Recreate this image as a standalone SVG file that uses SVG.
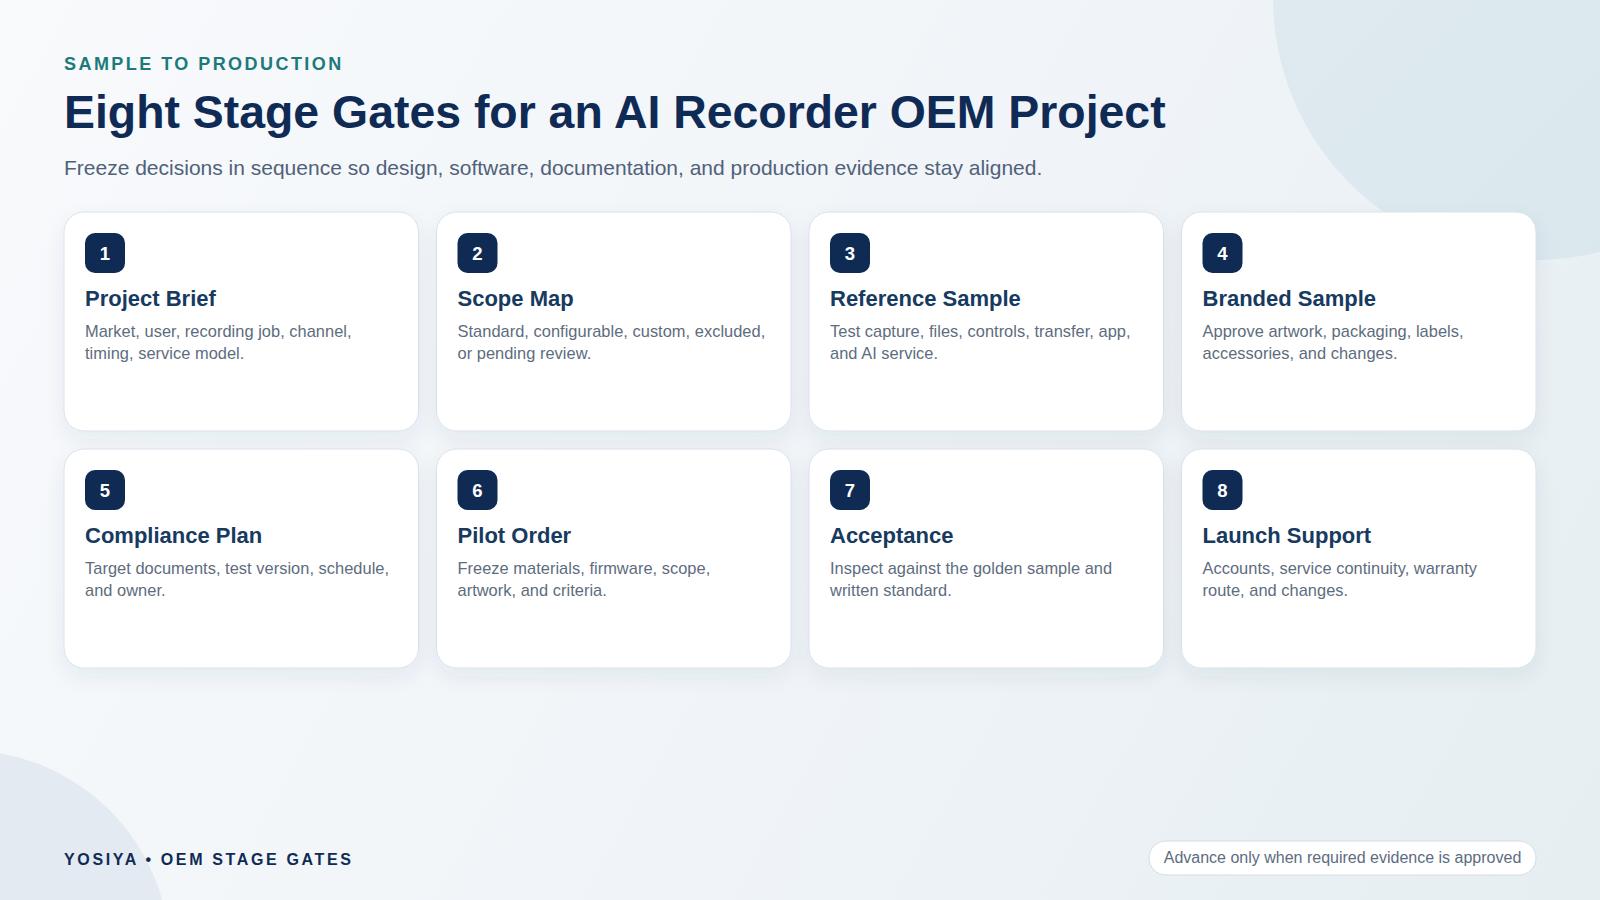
<svg xmlns="http://www.w3.org/2000/svg" width="1600" height="900" viewBox="0 0 1600 900">
  <defs>
    <linearGradient id="bg" x1="0" y1="0" x2="1600" y2="900" gradientUnits="userSpaceOnUse">
      <stop offset="0" stop-color="#f8fafc"/>
      <stop offset="0.55" stop-color="#f0f4f8"/>
      <stop offset="1" stop-color="#e5eef1"/>
    </linearGradient>
    <linearGradient id="blobTR" x1="0" y1="0" x2="1" y2="1">
      <stop offset="0" stop-color="#e0ebf1"/>
      <stop offset="1" stop-color="#d9e7ec"/>
    </linearGradient>
    <filter id="shadow" x="-10%" y="-10%" width="120%" height="130%">
      <feDropShadow dx="0" dy="8" stdDeviation="10" flood-color="#1d3b5c" flood-opacity="0.07"/>
    </filter>
    <style>
      .card { fill: #ffffff; stroke: #d8e1ea; stroke-width: 1; filter: url(#shadow); }
      .badge { fill: #0f2b54; }
      .num { font-family: "Liberation Sans", Arial, sans-serif; font-size: 18.5px; font-weight: 700; fill: #ffffff; text-anchor: middle; }
      .ttl { font-family: "Liberation Sans", Arial, sans-serif; font-size: 22px; font-weight: 700; fill: #163a60; }
      .desc { font-family: "Liberation Sans", Arial, sans-serif; font-size: 16.4px; letter-spacing: 0.04px; fill: #5d6c7e; }
    </style>
  </defs>

  <rect x="0" y="0" width="1600" height="900" fill="url(#bg)"/>
  <circle cx="1535" cy="-2" r="262" fill="url(#blobTR)"/>
  <circle cx="-36" cy="956" r="206" fill="#e3eaf1"/>

  <g id="header">
    <text x="64" y="70" font-family="'Liberation Sans', Arial, sans-serif" font-size="18" font-weight="700" letter-spacing="2.45" fill="#1c7a7a">SAMPLE TO PRODUCTION</text>
    <text x="64" y="128" font-family="'Liberation Sans', Arial, sans-serif" font-size="46.4" font-weight="700" fill="#0f2b55">Eight Stage Gates for an AI Recorder OEM Project</text>
    <text x="64" y="175" font-family="'Liberation Sans', Arial, sans-serif" font-size="21" fill="#506179">Freeze decisions in sequence so design, software, documentation, and production evidence stay aligned.</text>
  </g>

  <g id="connectors"></g>

  <g id="gate1">
    <rect class="card" x="64" y="212" width="354.5" height="219" rx="20"/>
    <rect class="badge" x="85" y="233" width="40" height="40" rx="10"/>
    <text class="num" x="105" y="259.5">1</text>
    <text class="ttl" x="85" y="306">Project Brief</text>
    <text class="desc" x="85" y="337">Market, user, recording job, channel,</text>
    <text class="desc" x="85" y="358.5">timing, service model.</text>
  </g>
  <g id="gate2">
    <rect class="card" x="436.5" y="212" width="354.5" height="219" rx="20"/>
    <rect class="badge" x="457.5" y="233" width="40" height="40" rx="10"/>
    <text class="num" x="477.5" y="259.5">2</text>
    <text class="ttl" x="457.5" y="306">Scope Map</text>
    <text class="desc" x="457.5" y="337">Standard, configurable, custom, excluded,</text>
    <text class="desc" x="457.5" y="358.5">or pending review.</text>
  </g>
  <g id="gate3">
    <rect class="card" x="809" y="212" width="354.5" height="219" rx="20"/>
    <rect class="badge" x="830" y="233" width="40" height="40" rx="10"/>
    <text class="num" x="850" y="259.5">3</text>
    <text class="ttl" x="830" y="306">Reference Sample</text>
    <text class="desc" x="830" y="337">Test capture, files, controls, transfer, app,</text>
    <text class="desc" x="830" y="358.5">and AI service.</text>
  </g>
  <g id="gate4">
    <rect class="card" x="1181.5" y="212" width="354.5" height="219" rx="20"/>
    <rect class="badge" x="1202.5" y="233" width="40" height="40" rx="10"/>
    <text class="num" x="1222.5" y="259.5">4</text>
    <text class="ttl" x="1202.5" y="306">Branded Sample</text>
    <text class="desc" x="1202.5" y="337">Approve artwork, packaging, labels,</text>
    <text class="desc" x="1202.5" y="358.5">accessories, and changes.</text>
  </g>
  <g id="gate5">
    <rect class="card" x="64" y="449" width="354.5" height="219" rx="20"/>
    <rect class="badge" x="85" y="470" width="40" height="40" rx="10"/>
    <text class="num" x="105" y="496.5">5</text>
    <text class="ttl" x="85" y="542.5">Compliance Plan</text>
    <text class="desc" x="85" y="574">Target documents, test version, schedule,</text>
    <text class="desc" x="85" y="595.5">and owner.</text>
  </g>
  <g id="gate6">
    <rect class="card" x="436.5" y="449" width="354.5" height="219" rx="20"/>
    <rect class="badge" x="457.5" y="470" width="40" height="40" rx="10"/>
    <text class="num" x="477.5" y="496.5">6</text>
    <text class="ttl" x="457.5" y="542.5">Pilot Order</text>
    <text class="desc" x="457.5" y="574">Freeze materials, firmware, scope,</text>
    <text class="desc" x="457.5" y="595.5">artwork, and criteria.</text>
  </g>
  <g id="gate7">
    <rect class="card" x="809" y="449" width="354.5" height="219" rx="20"/>
    <rect class="badge" x="830" y="470" width="40" height="40" rx="10"/>
    <text class="num" x="850" y="496.5">7</text>
    <text class="ttl" x="830" y="542.5">Acceptance</text>
    <text class="desc" x="830" y="574">Inspect against the golden sample and</text>
    <text class="desc" x="830" y="595.5">written standard.</text>
  </g>
  <g id="gate8">
    <rect class="card" x="1181.5" y="449" width="354.5" height="219" rx="20"/>
    <rect class="badge" x="1202.5" y="470" width="40" height="40" rx="10"/>
    <text class="num" x="1222.5" y="496.5">8</text>
    <text class="ttl" x="1202.5" y="542.5">Launch Support</text>
    <text class="desc" x="1202.5" y="574">Accounts, service continuity, warranty</text>
    <text class="desc" x="1202.5" y="595.5">route, and changes.</text>
  </g>

  <g id="footer">
    <text x="64" y="865" font-family="'Liberation Sans', Arial, sans-serif" font-size="16" font-weight="700" letter-spacing="2.65" fill="#0f2b55">YOSIYA • OEM STAGE GATES</text>
    <rect x="1149" y="841" width="387" height="34" rx="17" fill="#ffffff" stroke="#d3dde7" stroke-width="1"/>
    <text x="1342.5" y="863" text-anchor="middle" font-family="'Liberation Sans', Arial, sans-serif" font-size="16" fill="#5d6c7e">Advance only when required evidence is approved</text>
  </g>
</svg>
